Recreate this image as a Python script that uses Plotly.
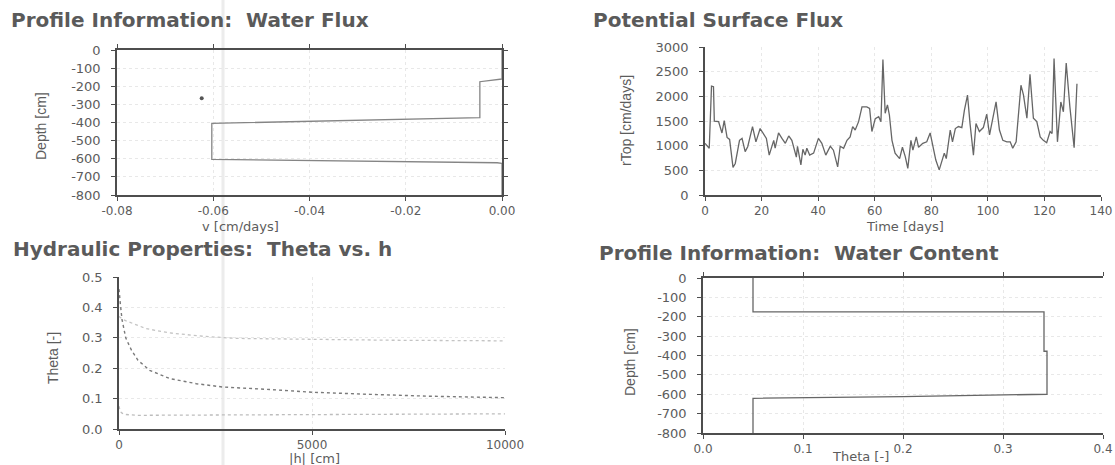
import plotly.graph_objects as go

W, H = 1115, 465

# ---------------- data ----------------
# Profile Information: Water Flux
flux_v = [0.0, 0.0, -0.0046, -0.0046, -0.0603, -0.0603, -0.001, 0.0, 0.0]
flux_depth = [0, -160, -175, -373, -405, -603, -622, -625, -800]
speck_v = [-0.0624]
speck_depth = [-266]

# Potential Surface Flux
time_days = [0, 1.5, 2.3, 3.0, 3.3, 4.8, 6.0, 6.8, 7.8, 8.7, 9.9, 10.7, 12.2, 13.1, 14.2,
             15.1, 16.8, 18.0, 19.5, 20.5, 21.7, 22.7, 24.3, 24.8, 26.0, 27.2, 28.4, 29.6,
             30.7, 32.3, 32.7, 33.9, 34.6, 35.4, 36.0, 37.0, 38.4, 40.1, 41.3, 42.7, 44.3,
             45.4, 46.9, 47.8, 49.0, 50.2, 51.3, 52.2, 53.1, 54.3, 55.5, 57.2, 58.2, 59.0,
             60.2, 61.4, 62.2, 62.9, 63.7, 64.5, 65.2, 66.1, 67.2, 68.8, 69.8, 70.8, 71.7,
             72.8, 73.5, 74.7, 75.5, 77.0, 78.4, 79.6, 80.8, 81.6, 82.8, 83.7, 84.6, 85.3,
             86.7, 87.5, 88.5, 89.6, 90.8, 91.7, 92.8, 93.7, 94.9, 95.8, 97.0, 98.4, 99.6,
             100.6, 101.7, 102.9, 104.1, 105.3, 106.7, 107.9, 108.8, 110.0, 111.7, 112.6,
             113.8, 114.9, 116.1, 117.3, 118.5, 119.6, 120.8, 122.0, 122.7, 123.4, 124.6,
             125.8, 126.7, 127.7, 129.0, 130.5, 131.5]
rtop = [1050, 950, 2210, 2200, 1500, 1490, 1260, 1510, 1170, 1130, 560, 640, 1110, 1150, 880,
        980, 1390, 1080, 1350, 1250, 1150, 810, 1110, 950, 1260, 1150, 1050, 1200,
        1110, 770, 990, 610, 930, 810, 950, 810, 850, 1150, 1050, 810, 990,
        910, 570, 990, 950, 1110, 1180, 1390, 1320, 1490, 1790, 1790, 1760, 1290,
        1550, 1590, 1490, 2750, 1660, 1830, 1620, 1110, 850, 740, 970, 780, 540,
        1110, 910, 1180, 970, 1050, 1080, 1260, 910, 710, 510, 710, 850, 740,
        1320, 1080, 1350, 1390, 1370, 1720, 2030, 1450, 810, 1450, 1290, 1370, 1640,
        1220, 1520, 1890, 1320, 1110, 1080, 1080, 950, 1080, 2230, 2030,
        1560, 2450, 1560, 1490, 1180, 1110, 1060, 1290, 1250, 2770, 1080,
        1890, 1690, 2680, 1790, 960, 2260]

# Hydraulic Properties: Theta vs. h (three materials)
h_mat1 = [0, 10, 36, 78, 174, 320, 492, 795, 1313, 2005, 2694, 3904, 5000, 6500, 8000, 10000]
theta_mat1 = [0.46, 0.44, 0.41, 0.36, 0.30, 0.26, 0.226, 0.193, 0.166, 0.149, 0.138, 0.130,
              0.121, 0.114, 0.108, 0.103]
h_mat2 = [0, 104, 400, 709, 1313, 2176, 3040, 5000, 7000, 10000]
theta_mat2 = [0.37, 0.36, 0.345, 0.33, 0.316, 0.305, 0.298, 0.295, 0.292, 0.29]
h_mat3 = [0, 10, 30, 80, 148, 450, 2000, 5000, 10000]
theta_mat3 = [0.075, 0.065, 0.058, 0.052, 0.048, 0.045, 0.046, 0.049, 0.050]

# Profile Information: Water Content
wc_theta = [0.05, 0.05, 0.341, 0.341, 0.344, 0.344, 0.2, 0.05, 0.05]
wc_depth = [0, -175, -175, -378, -378, -600, -612, -621, -800]

# tick labels
depth_ticks = [0, -100, -200, -300, -400, -500, -600, -700, -800]
depth_labels = ["0", "-100", "-200", "-300", "-400", "-500", "-600", "-700", "-800"]
v_ticks = [-0.08, -0.06, -0.04, -0.02, 0.0]
v_labels = ["-0.08", "-0.06", "-0.04", "-0.02", "0.00"]
time_ticks = [0, 20, 40, 60, 80, 100, 120, 140]
time_labels = ["0", "20", "40", "60", "80", "100", "120", "140"]
rtop_ticks = [0, 500, 1000, 1500, 2000, 2500, 3000]
rtop_labels = ["0", "500", "1000", "1500", "2000", "2500", "3000"]
h_ticks = [0, 5000, 10000]
h_labels = ["0", "5000", "10000"]
theta_ticks = [0, 0.1, 0.2, 0.3, 0.4, 0.5]
theta_labels = ["0.0", "0.1", "0.2", "0.3", "0.4", "0.5"]
wc_ticks = [0, 0.1, 0.2, 0.3, 0.4]
wc_labels = ["0.0", "0.1", "0.2", "0.3", "0.4"]

# ---------------- styling helpers ----------------
def px(x):
    return x / W


def py(y):
    return 1 - y / H


AX = "#4d4d4d"
TXT = "#5c5c5c"
GRID = "#e8e8e8"


def main_axis(domain, rng, tickvals, ticktext, anchor, mirror=False, standoff=None, fsize=13):
    d = dict(domain=domain, range=rng, tickvals=tickvals, ticktext=ticktext,
             ticks="outside", ticklen=4, tickwidth=1.3, tickcolor=AX,
             showline=True, linecolor=AX, linewidth=1.5, mirror=mirror,
             showgrid=True, gridcolor=GRID, griddash="dot", gridwidth=1,
             zeroline=False, tickfont=dict(family="DejaVu Sans", size=fsize, color=TXT),
             anchor=anchor, fixedrange=True, automargin=False)
    if standoff is not None:
        d["ticklabelstandoff"] = standoff
    return d


def inner_axis(overlay, anchor, rng, tickvals, mirror=False):
    return dict(overlaying=overlay, anchor=anchor, range=rng, tickvals=tickvals,
                ticks="inside", ticklen=4, tickwidth=1.3, tickcolor=AX,
                showticklabels=False, showline=False, mirror=mirror,
                showgrid=False, zeroline=False, fixedrange=True, automargin=False)


dom = {
    1: ([px(117), px(502)], [py(195), py(50)]),
    2: ([px(705), px(1101)], [py(195), py(47.3)]),
    3: ([px(119), px(505)], [py(429), py(277)]),
    4: ([px(703), px(1103)], [py(433), py(278)]),
}

fig = go.Figure()

# TL: water flux
fig.add_trace(go.Scatter(x=flux_v, y=flux_depth, mode="lines",
                         line=dict(color="#858585", width=1.3), xaxis="x", yaxis="y",
                         showlegend=False, hoverinfo="skip"))
fig.add_trace(go.Scatter(x=speck_v, y=speck_depth, mode="markers",
                         marker=dict(color="#555", size=4), xaxis="x", yaxis="y",
                         showlegend=False, hoverinfo="skip"))
# TR: potential surface flux
fig.add_trace(go.Scatter(x=time_days, y=rtop, mode="lines",
                         line=dict(color="#666666", width=1.3), xaxis="x2", yaxis="y2",
                         showlegend=False, hoverinfo="skip"))
# BL: theta vs h
fig.add_trace(go.Scatter(x=h_mat2, y=theta_mat2, mode="lines",
                         line=dict(color="#c4c4c4", width=1.3, dash="dot"),
                         xaxis="x3", yaxis="y3", showlegend=False, hoverinfo="skip"))
fig.add_trace(go.Scatter(x=h_mat3, y=theta_mat3, mode="lines",
                         line=dict(color="#bdbdbd", width=1.3, dash="dot"),
                         xaxis="x3", yaxis="y3", showlegend=False, hoverinfo="skip"))
fig.add_trace(go.Scatter(x=h_mat1, y=theta_mat1, mode="lines",
                         line=dict(color="#7a7a7a", width=1.4, dash="dot"),
                         xaxis="x3", yaxis="y3", showlegend=False, hoverinfo="skip"))
# BR: water content
fig.add_trace(go.Scatter(x=wc_theta, y=wc_depth, mode="lines",
                         line=dict(color="#666666", width=1.3), xaxis="x4", yaxis="y4",
                         showlegend=False, hoverinfo="skip"))

layout = dict(
    width=W, height=H, autosize=False,
    margin=dict(l=0, r=0, t=0, b=0, pad=0, autoexpand=False),
    paper_bgcolor="white", plot_bgcolor="rgba(0,0,0,0)", showlegend=False,
    xaxis=main_axis(dom[1][0], [-0.08, 0.0], v_ticks, v_labels, "y", mirror="ticks", fsize=12),
    yaxis=main_axis(dom[1][1], [-800, 0], depth_ticks, depth_labels, "x", mirror="ticks", standoff=8),
    xaxis2=main_axis(dom[2][0], [0, 140], time_ticks, time_labels, "y2", fsize=12),
    yaxis2=main_axis(dom[2][1], [0, 3000], rtop_ticks, rtop_labels, "x2", standoff=8),
    xaxis3=main_axis(dom[3][0], [0, 10000], h_ticks, h_labels, "y3", fsize=12),
    yaxis3=main_axis(dom[3][1], [0, 0.5], theta_ticks, theta_labels, "x3", standoff=8),
    xaxis4=main_axis(dom[4][0], [0, 0.4], wc_ticks, wc_labels, "y4", mirror="ticks", fsize=12),
    yaxis4=main_axis(dom[4][1], [-800, 0], depth_ticks, depth_labels, "x4", standoff=8),
    # inner tick overlays (ticks crossing the axis lines)
    xaxis5=inner_axis("x", "y", [-0.08, 0.0], v_ticks, mirror="ticks"),
    yaxis5=inner_axis("y", "x", [-800, 0], depth_ticks, mirror="ticks"),
    xaxis6=inner_axis("x2", "y2", [0, 140], time_ticks),
    yaxis6=inner_axis("y2", "x2", [0, 3000], rtop_ticks),
    xaxis7=inner_axis("x3", "y3", [0, 10000], h_ticks),
    yaxis7=inner_axis("y3", "x3", [0, 0.5], theta_ticks),
    xaxis8=inner_axis("x4", "y4", [0, 0.4], wc_ticks, mirror="ticks"),
    yaxis8=inner_axis("y4", "x4", [-800, 0], depth_ticks),
)
fig.update_layout(**layout)

# scan streak (light vertical band)
fig.add_shape(type="line", xref="paper", yref="paper", x0=px(223), x1=px(223), y0=0, y1=1,
              line=dict(color="#ececec", width=3), layer="below")

titlefont = dict(family="DejaVu Sans", size=20, color="#5a5a5a", weight="bold")
axtitlefont = dict(family="DejaVu Sans", size=13, color=TXT)
yfont = dict(family="Liberation Sans Narrow, Liberation Sans", size=14, color=TXT)

titles = [
    ("Profile Information:  Water Flux", 9, 20),
    ("Potential Surface Flux", 591, 20),
    ("Hydraulic Properties:  Theta vs. h", 11, 249),
    ("Profile Information:  Water Content", 597, 253),
]
for text, x, y in titles:
    fig.add_annotation(text=text, x=px(x), y=py(y), xref="paper", yref="paper",
                       xanchor="left", yanchor="middle", showarrow=False, font=titlefont)

xtitles = [
    ("v [cm/days]", 240, 226),
    ("Time [days]", 905, 226),
    ("|h| [cm]", 314, 458),
    ("Theta [-]", 860, 456),
]
for text, x, y in xtitles:
    fig.add_annotation(text=text, x=px(x), y=py(y), xref="paper", yref="paper",
                       xanchor="center", yanchor="middle", showarrow=False, font=axtitlefont)

ytitles = [
    ("Depth [cm]", 41, 126),
    ("rTop [cm/days]", 626, 121),
    ("Theta [-]", 53, 358),
    ("Depth [cm]", 630, 362),
]
for text, x, y in ytitles:
    fig.add_annotation(text=text, x=px(x), y=py(y), xref="paper", yref="paper",
                       xanchor="center", yanchor="middle", showarrow=False, font=yfont,
                       textangle=-90)

# the page's default body margin would shift the figure by 8px; remove it
fig.write_html("out.html",
               config={"displayModeBar": False},
               post_script="document.body.style.margin='0px';document.body.style.overflow='hidden';")
